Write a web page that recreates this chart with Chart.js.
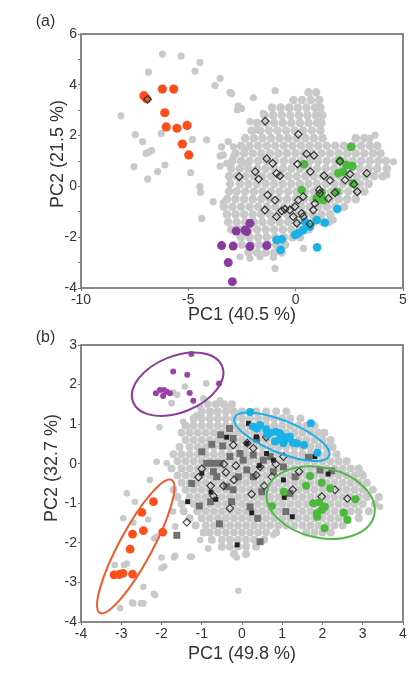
<!DOCTYPE html>
<html lang="en">

<head>
  <meta charset="UTF-8">
  <title>PCA</title>
  <script src="https://cdn.jsdelivr.net/npm/chart.js"></script>
  <style>
    body { margin: 0; background: #fff; }
    .painel { position: absolute; left: 0; }
    canvas { display: block; }
  </style>
</head>

<body>
  <div class="painel" style="top: 0px;"><canvas id="chartA" width="418" height="326"></canvas></div>
  <div class="painel" style="top: 326px;"><canvas id="chartB" width="418" height="362"></canvas></div>

<script>
  // ---------- panel (a) ----------
  var labelA = '(a)'
  var xTitleA = 'PC1 (40.5 %)'
  var yTitleA = 'PC2 (21.5 %)'

  // grey cloud, rows of [PC2, [PC1 values]]
  var greyRowsA = [
    [3.7, [0.6, 0.95]],
    [3.4, [-0.1, 0.3, 0.7, 1.1]],
    [3.1, [-1.1, -0.7, -0.3, 0.1, 0.5, 0.9, 1.15]],
    [2.8, [-1.45, -1.05, -0.65, -0.25, 0.15, 0.55, 0.95, 1.25]],
    [2.5, [-1.8, -1.4, -1.0, -0.6, -0.2, 0.2, 0.6, 1.0, 1.2]],
    [2.2, [-2.05, -1.65, -1.25, -0.85, -0.45, -0.05, 0.35, 0.75, 1.15]],
    [1.9, [-2.35, -1.95, -1.55, -1.15, -0.75, -0.35, 0.05, 0.45, 0.85, 1.25, 2.8, 3.2]],
    [1.6, [-2.55, -2.15, -1.75, -1.35, -0.95, -0.55, -0.15, 0.25, 0.65, 1.05, 1.45, 1.85, 2.25, 2.65, 3.05, 3.45, 3.8]],
    [1.3, [-2.8, -2.4, -2.0, -1.6, -1.2, -0.8, -0.4, 0.0, 0.4, 0.8, 1.2, 1.6, 2.0, 2.4, 2.8, 3.2, 3.6, 3.95]],
    [1.0, [-2.95, -2.55, -2.15, -1.75, -1.35, -0.95, -0.55, -0.15, 0.25, 0.65, 1.05, 1.45, 1.85, 2.25, 2.65, 3.05, 3.45, 3.85, 4.2]],
    [0.7, [-3.0, -2.6, -2.2, -1.8, -1.4, -1.0, -0.6, -0.2, 0.2, 0.6, 1.0, 1.4, 1.8, 2.2, 2.6, 3.0, 3.4, 3.8, 4.25]],
    [0.4, [-3.1, -2.75, -2.35, -1.95, -1.55, -1.15, -0.75, -0.35, 0.05, 0.45, 0.85, 1.25, 1.65, 2.05, 2.45, 2.85, 3.25, 3.65, 4.05]],
    [0.1, [-3.05, -2.6, -2.2, -1.8, -1.4, -1.0, -0.6, -0.2, 0.2, 0.6, 1.0, 1.4, 1.8, 2.2, 2.6, 3.0, 3.4]],
    [-0.2, [-3.1, -2.75, -2.35, -1.95, -1.55, -1.15, -0.75, -0.35, 0.05, 0.45, 0.85, 1.25, 1.65, 2.05, 2.45, 2.85, 3.2]],
    [-0.5, [-3.2, -2.8, -2.4, -2.0, -1.6, -1.2, -0.8, -0.4, 0.0, 0.4, 0.8, 1.2, 1.6, 2.0, 2.4, 2.8]],
    [-0.8, [-3.35, -2.95, -2.55, -2.15, -1.75, -1.35, -0.95, -0.55, -0.15, 0.25, 0.65, 1.05, 1.45, 1.85, 2.25]],
    [-1.1, [-3.2, -2.8, -2.4, -2.0, -1.6, -1.2, -0.8, -0.4, 0.0, 0.4, 0.8, 1.2, 1.6]],
    [-1.4, [-3.15, -2.75, -2.35, -1.95, -1.55, -1.15, -0.75, -0.35, 0.05, 0.45, 0.85, 1.25, 1.55]],
    [-1.7, [-3.0, -2.6, -2.2, -1.8, -1.4, -1.0, -0.6, -0.2, 0.2, 0.6]],
    [-2.0, [-2.55, -2.15, -1.75, -1.35, -0.95, -0.55, -0.15, 0.2]],
    [-2.3, [-2.5, -2.1, -1.7, -1.3, -0.9, -0.5]],
    [-2.6, [-2.2, -1.8, -1.4, -1.0, -0.65]]
  ]
  var greyExtraA = [
    [-6.21, 5.21], [-5.34, 5.13], [-4.46, 4.88], [-4.69, 4.54], [-6.86, 4.50], [-3.52, 4.25], [-3.76, 3.97],
    [-3.06, 3.70], [-0.96, 3.77], [-1.97, 3.49], [-2.67, 3.17], [-2.72, 3.01], [-8.14, 2.78], [-7.47, 2.04],
    [-7.13, 1.76], [-6.97, 1.30], [-6.85, 1.35], [-6.71, 1.41], [-7.53, 0.78], [-6.43, 0.58], [-6.09, 0.84],
    [-6.89, 0.29], [-4.89, 0.54], [-4.15, 1.83], [-4.81, 1.85], [-6.26, 2.08], [-4.46, -0.01], [-4.43, -0.23],
    [-3.45, 1.56], [-3.52, 1.20], [-3.52, 0.80], [-2.90, 1.17], [-3.84, -0.60], [-4.38, -1.26], [-3.37, -0.63],
    [-0.96, -3.23], [0.36, -2.44], [-2.59, -2.77], [-2.13, -2.83], [4.55, 0.97], [3.70, 2.02], [3.46, 1.89],
    [4.24, 0.45], [1.75, -1.32], [-2.98, 3.65], [-2.52, 3.07], [-1.51, 2.88], [-2.13, 2.55], [-1.89, 2.22],
    [-3.14, 1.76], [-2.90, 1.56], [-3.37, 1.24], [-2.36, 1.43], [-2.44, 0.91], [-3.21, 0.91], [-1.66, -2.78], [-1.04, -2.8]
  ]
  var orangeA = [[-7.07, 3.57], [-6.95, 3.45], [-6.21, 3.83], [-5.68, 3.83], [-6.10, 2.90], [-6.03, 2.34], [-5.53, 2.29], [-5.06, 2.40], [-5.28, 1.67], [-4.98, 1.24]]
  var purpleA = [[-2.77, -1.76], [-2.36, -1.72], [-2.13, -1.45], [-2.28, -1.78], [-3.45, -2.33], [-2.91, -2.35], [-2.13, -2.37], [-1.35, -2.33], [-3.14, -3.0], [-2.95, -3.75]]
  var blueA = [[1.94, -0.89], [1.36, -1.43], [0.98, -1.32], [0.43, -1.39], [0.67, -1.59], [0.12, -1.85], [-0.03, -1.91], [0.35, -1.72], [-0.65, -2.08], [-0.70, -2.50], [1.0, -2.40], [-0.89, -2.11]]
  var greenA = [[2.58, 1.56], [2.06, 1.01], [2.37, 0.84], [2.65, 0.80], [1.99, 0.52], [2.22, 0.58], [2.68, 0.12], [0.39, 0.87], [0.28, -0.14], [1.21, -0.25], [1.29, -0.54], [1.91, -0.21], [0.98, -0.47]]
  var diamondsA = [
    [-1.42, 2.57], [0.12, 2.05], [0.51, 1.28], [0.85, 1.22], [0.09, 0.88], [0.68, 0.58], [-1.35, 1.09], [-1.07, 0.91],
    [-0.89, 0.51], [-0.73, 0.42], [-1.88, 0.58], [-1.72, 0.29], [-2.63, 0.38], [1.32, 0.42], [1.6, 0.24], [2.06, 0.99],
    [2.53, 0.48], [2.3, 0.25], [2.72, 0.08], [2.87, -0.21], [3.31, 0.51], [-1.3, -0.34], [-0.96, -0.54], [-1.43, -0.93],
    [-0.89, -1.19], [-0.65, -0.96], [-0.5, -0.9], [-0.27, -0.93], [-0.03, -0.8], [0.12, -0.54], [0.35, -0.4], [0.28, -1.06],
    [0.35, -1.19], [0.82, -0.93], [0.9, -0.67], [1.13, -0.27], [1.52, -0.47], [1.83, -0.25], [-0.11, -1.19], [0.05, -1.45],
    [0.67, -1.48], [1.1, -0.14], [-6.9, 3.43]
  ]

  // ---------- panel (b) ----------
  var labelB = '(b)'
  var xTitleB = 'PC1 (49.8 %)'
  var yTitleB = 'PC2 (32.7 %)'

  var greyRowsB = [
    [1.5, [-0.85, -0.65, -0.45, -0.25]],
    [1.32, [-1.0, -0.8, -0.6, -0.4, -0.2, 0.0, 0.35, 0.6, 0.85, 1.1]],
    [1.14, [-1.2, -1.0, -0.8, -0.6, -0.4, -0.2, 0.0, 0.2, 0.4, 0.6, 0.8, 1.0, 1.2, 1.45]],
    [0.96, [-1.4, -1.2, -1.0, -0.8, -0.6, -0.4, -0.2, 0.0, 0.2, 0.4, 0.6, 0.8, 1.0, 1.2, 1.4, 1.6, 1.8]],
    [0.78, [-1.5, -1.3, -1.1, -0.9, -0.7, -0.5, -0.3, -0.1, 0.1, 0.3, 0.5, 0.7, 0.9, 1.1, 1.3, 1.5, 1.7, 1.9, 2.05]],
    [0.6, [-1.4, -1.2, -1.0, -0.8, -0.6, -0.4, -0.2, 0.0, 0.2, 0.4, 0.6, 0.8, 1.0, 1.2, 1.4, 1.6, 1.8, 2.0, 2.2]],
    [0.42, [-1.55, -1.3, -1.1, -0.9, -0.7, -0.5, -0.3, -0.1, 0.1, 0.3, 0.5, 0.7, 0.9, 1.1, 1.3, 1.5, 1.7, 1.9, 2.1, 2.25]],
    [0.24, [-1.7, -1.5, -1.3, -1.1, -0.9, -0.7, -0.5, -0.3, -0.1, 0.1, 0.3, 0.5, 0.7, 0.9, 1.1, 1.3, 1.5, 1.7, 1.9, 2.1, 2.35]],
    [0.06, [-1.6, -1.4, -1.2, -1.0, -0.8, -0.6, -0.4, -0.2, 0.0, 0.2, 0.4, 0.6, 0.8, 1.0, 1.2, 1.4, 1.6, 1.8, 2.0, 2.2, 2.4, 2.6]],
    [-0.12, [-1.75, -1.5, -1.3, -1.1, -0.9, -0.7, -0.5, -0.3, -0.1, 0.1, 0.3, 0.5, 0.7, 0.9, 1.1, 1.3, 1.5, 1.7, 1.9, 2.1, 2.3, 2.5, 2.7, 2.9]],
    [-0.3, [-1.6, -1.4, -1.2, -1.0, -0.8, -0.6, -0.4, -0.2, 0.0, 0.2, 0.4, 0.6, 0.8, 1.0, 1.2, 1.4, 1.6, 1.8, 2.0, 2.2, 2.4, 2.6, 2.8, 3.0]],
    [-0.48, [-1.5, -1.3, -1.1, -0.9, -0.7, -0.5, -0.3, -0.1, 0.1, 0.3, 0.5, 0.7, 0.9, 1.1, 1.3, 1.5, 1.7, 1.9, 2.1, 2.3, 2.5, 2.7, 2.9, 3.1]],
    [-0.66, [-1.7, -1.4, -1.2, -1.0, -0.8, -0.6, -0.4, -0.2, 0.0, 0.2, 0.4, 0.6, 0.8, 1.0, 1.2, 1.4, 1.6, 1.8, 2.0, 2.2, 2.4, 2.6, 2.8, 3.0, 3.25]],
    [-0.84, [-1.6, -1.3, -1.1, -0.9, -0.7, -0.5, -0.3, -0.1, 0.1, 0.3, 0.5, 0.7, 0.9, 1.1, 1.3, 1.5, 1.7, 1.9, 2.1, 2.3, 2.5, 2.7, 2.9, 3.1, 3.4]],
    [-1.02, [-1.5, -1.2, -1.0, -0.8, -0.6, -0.4, -0.2, 0.0, 0.2, 0.4, 0.6, 0.8, 1.0, 1.2, 1.4, 1.6, 1.8, 2.0, 2.2, 2.4, 2.6, 2.8, 3.0, 3.3]],
    [-1.2, [-1.45, -1.1, -0.9, -0.7, -0.5, -0.3, -0.1, 0.1, 0.3, 0.5, 0.7, 0.9, 1.1, 1.3, 1.5, 1.7, 1.9, 2.1, 2.3, 2.5, 2.7, 2.9, 3.15]],
    [-1.38, [-1.3, -1.0, -0.8, -0.6, -0.4, -0.2, 0.0, 0.2, 0.4, 0.6, 0.8, 1.0, 1.2, 1.4, 1.6, 1.8, 2.0, 2.2, 2.4, 2.6, 2.9]],
    [-1.56, [-1.15, -0.9, -0.7, -0.5, -0.3, -0.1, 0.1, 0.3, 0.5, 0.7, 0.9, 1.1, 1.3, 1.5, 1.7, 1.9, 2.1, 2.3, 2.5]],
    [-1.74, [-0.95, -0.8, -0.6, -0.4, -0.2, 0.0, 0.2, 0.4, 0.6, 0.85, 1.6, 1.8, 2.0, 2.2]],
    [-1.92, [-0.75, -0.5, -0.3, -0.1, 0.1, 0.3, 0.55]],
    [-2.1, [-0.5, -0.3, -0.1, 0.1, 0.35]],
    [-2.28, [-0.2, 0.1]]
  ]
  var greyExtraB = [
    [-2.86, -0.75], [-2.66, -0.96], [-2.29, -0.41], [-2.95, -1.38], [-2.70, -1.49], [-2.33, -1.41], [-2.12, -1.84],
    [-1.66, -1.59], [-2.0, -2.37], [-1.66, -2.33], [-2.0, -2.64], [-2.16, -3.32], [-2.45, -3.11], [-3.16, -2.56],
    [-2.86, -2.52], [-2.70, -3.53], [-2.45, -3.53], [-3.03, -3.65], [-0.84, -2.14], [-1.04, -1.93], [-1.29, -2.35],
    [-2.18, -1.89], [-1.93, -2.60], [-2.19, -3.29], [-2.51, -3.53], [-2.73, -3.51], [-2.93, -2.56], [-1.69, -2.37],
    [-1.25, -2.35], [-0.13, -2.37], [-0.09, -3.21], [0.78, -1.80], [-2.12, 0.05], [-1.87, 0.01], [-2.05, 0.92],
    [2.97, -0.24], [3.43, -1.09], [-1.13, -1.21], [-1.71, -1.21], [-1.42, 1.95], [-1.71, 1.80], [-1.61, 1.74],
    [-0.89, 2.03], [-0.96, 1.65], [-1.04, 1.44], [-1.75, 1.53], [-1.46, 1.06], [-1.37, 0.94], [-1.21, 1.10],
    [-1.13, 1.23], [-0.75, 1.31], [-0.55, 1.6], [-0.3, 1.45]
  ]
  var orangeB = [[-2.20, -0.96], [-2.49, -1.23], [-2.72, -1.78], [-2.45, -1.69], [-1.97, -1.73], [-2.78, -2.16], [-3.18, -2.81], [-3.05, -2.80], [-2.96, -2.77], [-2.72, -2.79]]
  var purpleB = [[-1.26, 2.77], [-1.71, 2.33], [-1.36, 2.25], [-0.57, 2.03], [-2.14, 1.78], [-2.04, 1.86], [-1.94, 1.86], [-1.87, 1.82], [-1.79, 1.78], [-1.96, 1.71], [-1.30, 1.79], [-1.21, 1.59]]
  var blueB = [[0.20, 1.31], [1.71, 1.02], [0.27, 0.94], [0.37, 0.89], [0.60, 0.87], [0.71, 0.78], [0.84, 0.81], [0.94, 0.77], [1.03, 0.68], [1.11, 0.64], [1.19, 0.68], [1.27, 0.53], [1.36, 0.52], [1.54, 0.47], [1.03, 0.52], [0.82, 0.56], [0.63, 0.73], [1.87, 0.28], [0.94, 0.62], [0.45, 0.98]]
  var greenB = [[1.69, -0.31], [1.98, -0.48], [1.59, -0.56], [2.19, -0.62], [1.04, -0.71], [2.82, -0.90], [0.74, -1.07], [1.77, -1.0], [1.92, -0.98], [2.06, -1.09], [1.98, -1.17], [1.87, -1.34], [2.53, -1.24], [2.62, -1.42], [2.05, -1.63], [1.86, -1.25]]
  var diamondsB = [
    [-0.22, 0.47], [0.13, 0.52], [0.60, 0.67], [0.28, 0.39], [-0.45, -0.01], [-1.0, -0.13], [-1.08, -0.34], [-0.15, -0.05],
    [-0.78, -0.56], [-0.71, -0.81], [-0.40, -0.22], [-0.46, -0.56], [-0.20, -0.41], [0.24, -0.77], [0.35, -0.29], [0.45, -0.08],
    [0.55, -0.56], [0.84, -0.01], [1.03, 0.18], [1.26, -0.66], [1.42, -0.20], [1.98, -0.83], [2.31, -0.66], [2.62, -0.88],
    [-0.30, -1.13], [-1.37, -1.48], [0.74, -0.33]
  ]
  var squaresB = [
    [-0.31, 0.89], [-0.53, 0.73], [-0.75, 0.49], [-0.22, 0.64], [-1.0, 0.30], [-1.25, -0.50], [-1.06, -1.07], [-0.78, -0.96],
    [-0.56, -1.52], [-1.62, -1.81], [0.45, -1.97], [0.39, -1.38], [1.09, -1.21], [1.32, -0.33], [2.23, -0.18], [1.65, 0.16],
    [0.28, 0.22], [-0.05, 0.26], [-0.30, 0.18], [-0.55, 0.01], [-0.71, 0.01], [-0.88, 0.01], [0.03, 0.09], [0.12, -0.16],
    [0.36, 0.62], [-0.22, -0.66], [-0.38, -0.58], [0.20, -1.09], [0.28, -0.33], [0.53, 0.09], [0.78, -0.20], [1.03, -0.08],
    [1.19, -0.75], [1.94, -0.16], [0.70, 0.18], [0.49, -0.71], [-0.71, -0.20], [-0.48, 0.45], [-0.09, -0.33], [-0.26, -0.96],
    [-0.63, -0.33]
  ]
  var blackB = [
    [-0.38, 0.67], [0.16, 1.02], [0.12, 0.51], [0.43, -0.05], [0.61, 0.26], [-1.0, -0.24], [-0.77, -0.72], [-0.65, -0.90],
    [-1.35, -0.96], [0.24, -1.24], [1.25, -1.34], [-0.12, -2.05], [2.14, -0.26], [1.05, -0.85], [0.78, 0.09], [1.81, 0.18],
    [1.03, -0.41], [0.36, 0.68]
  ]
  // group ellipses: centre, end of the long half axis (as offset), short half axis
  var ellipseCentres = [[-1.60, 2.01], [0.99, 0.68], [1.955, -0.985], [-2.64, -2.09]]
  var ellipseLongAxes = [[1.106, 0.455], [1.175, -0.483], [1.33, -0.31], [0.89, 1.68]]
  var ellipseShortAxes = [0.70, 0.40, 0.87, 0.41]

  var fonte = "'Liberation Sans', Arial, Helvetica, sans-serif"
  Chart.defaults.font.family = fonte
  Chart.defaults.color = '#333'

  function pontos(lista) {
    return lista.map(function (p) { return { x: p[0], y: p[1] } })
  }

  function pontosLinhas(linhas) {
    var out = []
    linhas.forEach(function (l) {
      l[1].forEach(function (x) { out.push({ x: x, y: l[0] }) })
    })
    return out
  }

  function circulos(lista, cor, raio, ordem) {
    return {
      data: lista, pointStyle: 'circle', pointRadius: raio, pointBackgroundColor: cor,
      pointBorderWidth: 0, order: ordem
    }
  }

  // frame, panel letter, y title and ellipses
  var decoracao = {
    id: 'decoracao',
    afterDatasetsDraw: function (chart, args, opts) {
      var ctx = chart.ctx
      var a = chart.chartArea
      var xs = chart.scales.x
      var ys = chart.scales.y
      ctx.save()
      ctx.beginPath()
      ctx.rect(a.left, a.top, a.right - a.left, a.bottom - a.top)
      ctx.clip()
      ;(opts.elipses || []).forEach(function (e) {
        var cx = xs.getPixelForValue(e.c[0])
        var cy = ys.getPixelForValue(e.c[1])
        var ux = xs.getPixelForValue(e.c[0] + e.v[0]) - cx
        var uy = ys.getPixelForValue(e.c[1] + e.v[1]) - cy
        var b = Math.abs(xs.getPixelForValue(e.b) - xs.getPixelForValue(0))
        ctx.beginPath()
        ctx.ellipse(cx, cy, Math.hypot(ux, uy), b, Math.atan2(uy, ux), 0, 2 * Math.PI)
        ctx.strokeStyle = e.cor
        ctx.lineWidth = 2
        ctx.stroke()
      })
      ctx.restore()

      ctx.save()
      ctx.strokeStyle = '#7b7b7b'
      ctx.lineWidth = 1.8
      ctx.strokeRect(a.left, a.top, a.right - a.left, a.bottom - a.top)

      ctx.fillStyle = '#333'
      ctx.textAlign = 'center'
      ctx.textBaseline = 'middle'
      ctx.font = '16px ' + fonte
      ctx.fillText(opts.letra, opts.letraX, opts.letraY)

      ctx.translate(opts.tituloX, opts.tituloY)
      ctx.rotate(-Math.PI / 2)
      ctx.font = '18px ' + fonte
      ctx.fillText(opts.titulo, 0, 0)
      ctx.restore()
    }
  }

  function eixos(xmin, xmax, xstep, ymin, ymax, ystep, xTitulo, alturaX, yLabel) {
    return {
      x: {
        type: 'linear', min: xmin, max: xmax,
        ticks: { stepSize: xstep, font: { size: 14 }, padding: 1, maxRotation: 0, autoSkip: false, color: '#333' },
        grid: { drawOnChartArea: false, drawTicks: true, tickLength: 3, color: '#777' },
        border: { display: false },
        title: { display: true, text: xTitulo, font: { size: 18 }, padding: 0, color: '#333' },
        afterFit: function (s) { s.height = alturaX }
      },
      y: {
        type: 'linear', min: ymin, max: ymax,
        ticks: { stepSize: ystep, font: { size: 14 }, padding: 1, autoSkip: false, color: '#333', callback: yLabel },
        grid: { drawOnChartArea: false, drawTicks: true, tickLength: 3, color: '#777' },
        border: { display: false },
        afterFit: function (s) { s.width = 81 }
      }
    }
  }

  // chart (a)
  new Chart(document.getElementById('chartA'), {
    type: 'scatter',
    data: {
      datasets: [
        {
          data: pontos(diamondsA), pointStyle: 'rectRot', pointRadius: 3.8,
          pointBackgroundColor: 'rgba(0,0,0,0)', pointBorderColor: '#333', pointBorderWidth: 1.2, order: 1
        },
        circulos(pontos(orangeA), '#ff4e1a', 4.6, 2),
        circulos(pontos(greenA), '#4cb83c', 4.3, 3),
        circulos(pontos(blueA), '#19b2e8', 4.3, 4),
        circulos(pontos(purpleA), '#8a3c9e', 4.5, 5),
        circulos(pontos(greyExtraA), '#c9c9c9', 3.6, 10),
        circulos(pontosLinhas(greyRowsA), '#c9c9c9', 4.3, 11)
      ]
    },
    options: {
      responsive: false,
      animation: false,
      events: [],
      layout: { padding: { top: 34, left: 0, right: 15, bottom: 0 } },
      scales: eixos(-10, 5, 5, -4, 6, 1, xTitleA, 38, function (v) { return v % 2 === 0 ? v : '' }),
      plugins: {
        legend: { display: false },
        tooltip: { enabled: false },
        decoracao: { letra: labelA, letraX: 45.5, letraY: 22, titulo: yTitleA, tituloX: 58, tituloY: 154 }
      }
    },
    plugins: [decoracao]
  })

  // chart (b)
  var coresElipse = ['#8b3f9c', '#1ab0e6', '#4fb848', '#f05a28']
  var elipsesB = ellipseCentres.map(function (c, i) {
    return { c: c, v: ellipseLongAxes[i], b: ellipseShortAxes[i], cor: coresElipse[i] }
  })

  new Chart(document.getElementById('chartB'), {
    type: 'scatter',
    data: {
      datasets: [
        circulos(pontos(orangeB), '#ff4e1a', 4.4, 1),
        circulos(pontos(purpleB), '#9a40aa', 3.0, 1),
        circulos(pontos(blueB), '#19b2e8', 4.0, 2),
        circulos(pontos(greenB), '#4cb83c', 4.0, 2),
        {
          data: pontos(diamondsB), pointStyle: 'rectRot', pointRadius: 3.8,
          pointBackgroundColor: 'rgba(0,0,0,0)', pointBorderColor: '#333', pointBorderWidth: 1.1, order: 3
        },
        {
          data: pontos(blackB), pointStyle: 'rect', pointRadius: 3.5,
          pointBackgroundColor: '#202020', pointBorderWidth: 0, order: 4
        },
        {
          data: pontos(squaresB), pointStyle: 'rect', pointRadius: 4.9,
          pointBackgroundColor: '#707070', pointBorderWidth: 0, order: 5
        },
        circulos(pontos(greyExtraB), '#c9c9c9', 3.3, 10),
        circulos(pontosLinhas(greyRowsB), '#c9c9c9', 4.0, 11)
      ]
    },
    options: {
      responsive: false,
      animation: false,
      events: [],
      layout: { padding: { top: 19, left: 0, right: 15, bottom: 23 } },
      scales: eixos(-4, 4, 1, -4, 3, 1, xTitleB, 43, function (v) { return v }),
      plugins: {
        legend: { display: false },
        tooltip: { enabled: false },
        decoracao: { letra: labelB, letraX: 45.5, letraY: 11.5, titulo: yTitleB, tituloX: 52.5, tituloY: 142, elipses: elipsesB }
      }
    },
    plugins: [decoracao]
  })
</script>
</body>

</html>
